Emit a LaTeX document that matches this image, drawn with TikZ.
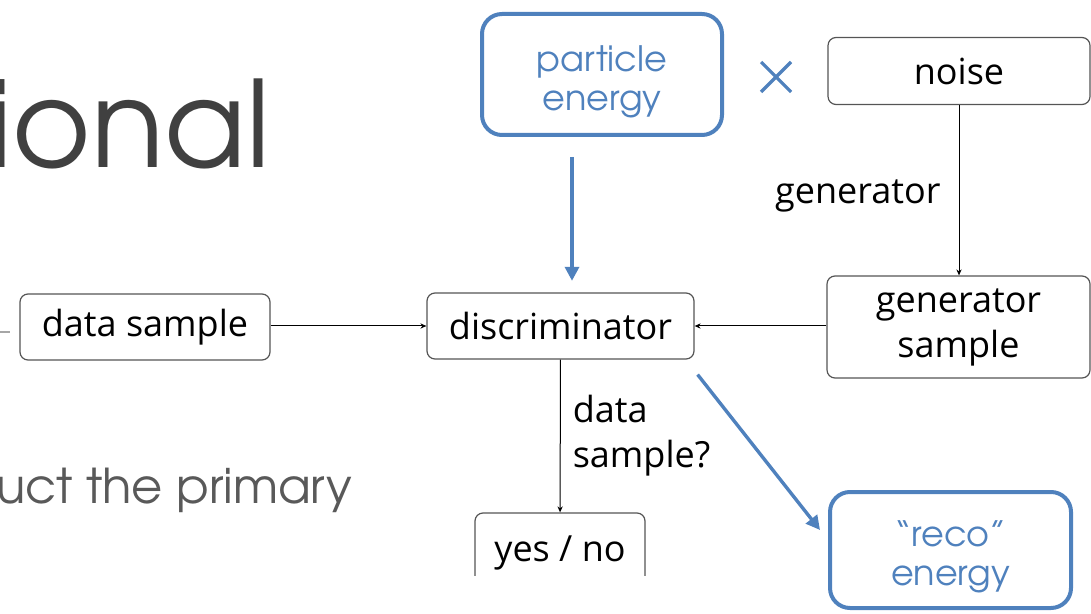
\documentclass[tikz,border=0pt]{standalone}
\usepackage{fontspec}
\setmainfont{Open Sans}
\newfontfamily\gothic{TeX Gyre Adventor}
\usetikzlibrary{arrows.meta}

\definecolor{slideblue}{RGB}{79,129,189}
\definecolor{titlegray}{RGB}{64,64,64}
\definecolor{bodygray}{RGB}{89,89,89}
\definecolor{boxgray}{RGB}{85,85,85}

\begin{document}
\begin{tikzpicture}[x=0.5pt, y=-0.5pt,
	box/.style={draw=boxgray, line width=0.6pt, rounded corners=4pt, inner sep=0pt,
		align=center, font=\fontsize{18}{22.5}\selectfont},
	bluebox/.style={draw=slideblue, line width=2pt, rounded corners=10pt, inner sep=0pt},
	bluetext/.style={inner sep=0pt, align=center, text=slideblue, font=\gothic\fontsize{17.5}{19.5}\selectfont},
	link/.style={line width=0.5pt, -{Stealth[length=3pt,width=2.6pt]}},
	bluelink/.style={draw=slideblue, fill=slideblue, line width=1.7pt,
		-{Triangle[length=7pt,width=7pt]}},
	edgelabel/.style={inner sep=0pt, align=left, font=\fontsize{18}{22.5}\selectfont}]
	\useasboundingbox (0,0) rectangle (1091,614);
	\clip (0,0) rectangle (1091,614);
	% slide text behind the diagram
	\node[anchor=base east, inner sep=0pt, text=titlegray, font=\gothic\fontsize{60}{60}\selectfont] (title) at (271,168) {ional};
	\node[anchor=base east, inner sep=0pt, text=bodygray, font=\gothic\fontsize{24}{24}\selectfont] (body) at (353,503) {uct the primary};
	\draw[gray!70, line width=0.6pt] (0,332) -- (10,332);
	% GAN boxes
	\node[box, minimum width=125pt, minimum height=33pt] (data) at (145,327) {data sample};
	\node[box, minimum width=133.5pt, minimum height=33pt] (disc) at (560.5,326) {discriminator};
	\node[box, minimum width=131pt, minimum height=33.5pt] (noise) at (959,71) {noise};
	\node[box, minimum width=131.5pt, minimum height=51pt] (gensample) at (958.5,327) {generator\\sample};
	\begin{scope}
		\clip (0,0) rectangle (1091,575);
		\node[box, minimum width=85pt, minimum height=40pt] (answer) at (560,553) {yes / no};
	\end{scope}
	\draw[link] (data.east |- disc) -- (disc);
	\draw[link] (gensample.west |- disc) -- (disc);
	\draw[link] (noise) -- node[edgelabel, left=9pt, yshift=-3pt] {generator} (noise |- gensample.north);
	\draw[link] (disc) -- node[edgelabel, right=6pt] {data\\sample?} (answer);
	% energy conditioning
	\node[bluebox, minimum width=120pt, minimum height=60.5pt] (particle) at (602,74.5) {};
	\node[bluetext] (particletext) at ([yshift=-3.5pt]particle.center) {particle\\energy};
	\node[bluebox, minimum width=120.5pt, minimum height=58pt] (reco) at (950.5,550) {};
	\node[bluetext] (recotext) at ([yshift=-3.5pt]reco.center) {“reco”\\energy};
	\coordinate (times) at (776,77);
	\draw[slideblue, line width=1.6pt] ([shift={(-15,-15)}]times) -- ([shift={(15,15)}]times)
		([shift={(-15,15)}]times) -- ([shift={(15,-15)}]times);
	\draw[bluelink, shorten <=10pt, shorten >=5.8pt] ([xshift=-15pt]particle.south) -- ([xshift=5.75pt]disc.north);
	\draw[bluelink] ([shift={(3,15)}]disc.south east) -- ([shift={(-8,-20)}]reco.west);
\end{tikzpicture}
\end{document}
